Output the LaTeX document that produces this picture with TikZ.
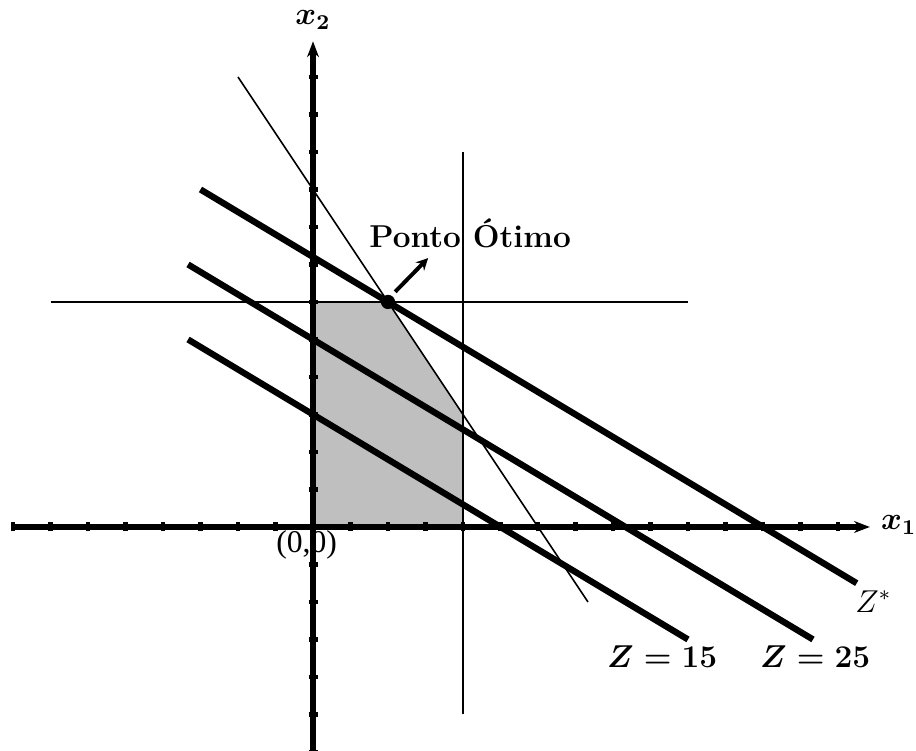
\documentclass[tikz,border=0pt]{standalone}
\usepackage{amsmath}
\usepackage{fontspec}
\newfontfamily\timesfont{Liberation Serif}
\usetikzlibrary{arrows.meta}
\tikzset{
  axis/.style={line width=2pt,-{Stealth[length=6pt,width=4.5pt,inset=2pt]}},
  tickmark/.style={line width=1.8pt},
  thinline/.style={line width=0.6pt},
  zline/.style={line width=2.4pt},
  lbl/.style={font=\large, inner sep=0pt},
  region/.style={fill=black!25}}
\begin{document}
\begin{tikzpicture}[x=0.5cm,y=0.5cm]
\useasboundingbox (-8.347,-5.973) rectangle (16.08,14.053);
% feasible region
\fill[region] (0,0) -- (4,0) -- (4,3) -- (2,6) -- (0,6) -- cycle;
% constraint lines
\coordinate (c1a) at (4,-5);   \coordinate (c1b) at (4,10);
\coordinate (c2a) at (-7,6);   \coordinate (c2b) at (10,6);
\coordinate (c3a) at (-2,12);  \coordinate (c3b) at (7.333,-2);
\draw[thinline] (c1a) -- (c1b);
\draw[thinline] (c2a) -- (c2b);
\draw[thinline] (c3a) -- (c3b);
% objective lines
\coordinate (zsa) at (-3,9);      \coordinate (zsb) at (14.5,-1.5);
\coordinate (z25a) at (-3.333,7); \coordinate (z25b) at (13.333,-3);
\coordinate (z15a) at (-3.333,5); \coordinate (z15b) at (10,-3);
\draw[zline] (zsa) -- (zsb);
\draw[zline] (z25a) -- (z25b);
\draw[zline] (z15a) -- (z15b);
% axes
\coordinate (xl) at (-8,0); \coordinate (xr) at (14.85,0);
\coordinate (yb) at (0,-6); \coordinate (yt) at (0,12.95);
\draw[axis] (xl) -- (xr);
\draw[axis] (yb) -- (yt);
\foreach \i in {-8,-7,-6,-5,-4,-3,-2,-1,1,2,3,4,5,6,7,8,9,10,11,12,13,14} {\draw[tickmark] (\i,-0.12) -- (\i,0.12);}
\foreach \j in {-6,-5,-4,-3,-2,-1,1,2,3,4,5,6,7,8,9,10,11,12} {\draw[tickmark] (-0.12,\j) -- (0.12,\j);}
% optimum
\coordinate (opt) at (2,6);
\fill (opt) circle (0.19);
\coordinate (arrs) at (2.19,6.27); \coordinate (arre) at (3.07,7.17);
\draw[line width=1.5pt,-{Stealth[length=4.5pt,width=4.5pt,inset=1.5pt]}] (arrs) -- (arre);
% labels
\node[lbl] (lx2) at (0,13.52) {$\boldsymbol{x_2}$};
\node[lbl] (lx1) at (15.62,0.05) {$\boldsymbol{x_1}$};
\node[lbl,font=\timesfont\large] (orig) at (-0.17,-0.48) {(0,0)};
\node[lbl,font=\large\bfseries,anchor=base] (pto) at (4.19,7.44) {Ponto Ótimo};
\node[lbl,anchor=base] (l15) at (9.31,-3.76) {$\boldsymbol{Z=15}$};
\node[lbl,anchor=base] (l25) at (13.39,-3.76) {$\boldsymbol{Z=25}$};
\node[lbl,anchor=base west] (lstar) at (14.45,-2.27) {$Z^{*}$};
\end{tikzpicture}
\end{document}
